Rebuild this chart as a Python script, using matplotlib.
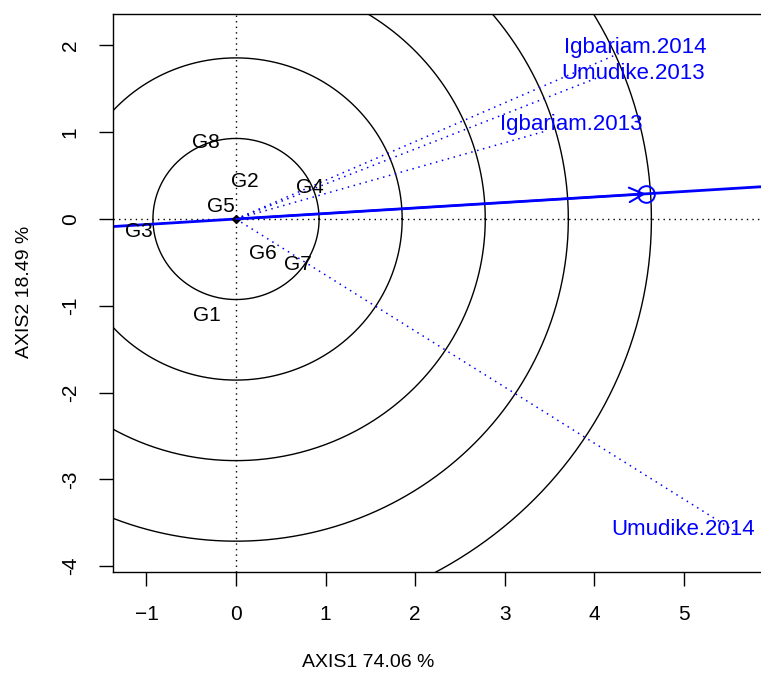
import matplotlib
matplotlib.use("Agg")
import matplotlib.pyplot as plt
import numpy as np

plt.rcParams['font.family'] = ['Liberation Sans', 'DejaVu Sans']

# genotype scores (AXIS1, AXIS2)
genotypes = ["G1", "G2", "G3", "G4", "G5", "G6", "G7", "G8"]
gen_x = [-0.32, 0.10, -1.09, 0.83, -0.17, 0.30, 0.69, -0.34]
gen_y = [-1.11, 0.43, -0.14, 0.36, 0.14, -0.40, -0.53, 0.88]

# environment vectors and where their labels sit
environments = ["Igbariam.2014", "Umudike.2013", "Igbariam.2013", "Umudike.2014"]
env_x = [4.35, 4.07, 3.45, 5.61]
env_y = [1.94, 1.64, 1.01, -3.62]
lab_x = [4.46, 4.44, 3.75, 4.99]
lab_y = [1.98, 1.68, 1.09, -3.58]

# ideal environment and circle spacing
ideal = (4.58, 0.29)
circle_step = 0.928
n_circles = 5

fig = plt.figure(figsize=(7.61, 6.75), dpi=100)
ax = fig.add_axes([0.1485, 0.1526, 0.8530, 0.8267])

xmin, xmax = -1.374, 5.877
ymin, ymax = -4.067, 2.362

# concentric circles about the origin
t = np.linspace(0, 2 * np.pi, 721)
for k in range(1, n_circles + 1):
    r = circle_step * k
    ax.plot(r * np.cos(t), r * np.sin(t), color='black', lw=1.0)

ax.axhline(0, color='black', ls=(0, (1, 3)), lw=1.0)
ax.axvline(0, color='black', ls=(0, (1, 3)), lw=1.0)

# environment vectors
for ex, ey in zip(env_x, env_y):
    ax.plot([0, ex], [0, ey], color='blue', ls=(0, (1, 3)), lw=1.1)
for name, lx, ly in zip(environments, lab_x, lab_y):
    ax.text(lx, ly, name, color='blue', fontsize=16, ha='center', va='center')

# average environment axis through the ideal point
slope = ideal[1] / ideal[0]
ax.plot([xmin, xmax], [slope * xmin, slope * xmax], color='blue', lw=2.0)
ax.annotate('', xy=ideal, xytext=(0, 0),
            arrowprops=dict(arrowstyle='->', color='blue', lw=1.5,
                            mutation_scale=26, shrinkA=0, shrinkB=0))
ax.plot(*ideal, marker='o', ms=12, mfc='none', mec='blue', mew=1.4)

ax.plot(0, 0, marker='D', ms=4, color='black')

for name, gx, gy in zip(genotypes, gen_x, gen_y):
    ax.text(gx, gy, name, fontsize=15, ha='center', va='center')

ax.set_xlim(xmin, xmax)
ax.set_ylim(ymin, ymax)
ax.set_xticks(range(-1, 6))
ax.set_yticks(range(-4, 3))
ax.set_yticklabels([str(v) for v in range(-4, 3)], rotation=90, va='center')
ax.tick_params(length=10, width=1, labelsize=15, pad=14)
for s in ax.spines.values():
    s.set_linewidth(1.0)

ax.set_xlabel('AXIS1 74.06 %', fontsize=14)
ax.set_ylabel('AXIS2 18.49 %', fontsize=14)
# label centres (pixels -> axes fraction)
ax.xaxis.set_label_coords((368 - 113) / 649, -(663 - 572) / 558)
ax.yaxis.set_label_coords(-(113 - 25) / 649, (572 - 292) / 558)
ax.xaxis.label.set_va('center')
ax.yaxis.label.set_va('center')

fig.savefig('out.png', dpi=100)
